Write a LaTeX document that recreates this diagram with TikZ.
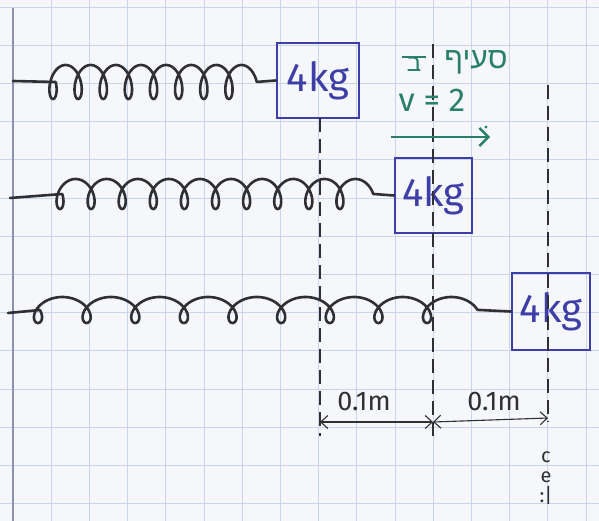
\documentclass[tikz,border=0pt]{standalone}
\usepackage{fontspec}
\setmainfont{Fira Sans}
\newfontfamily\hebfont[Script=Hebrew]{Liberation Sans}
\TeXXeTstate=1
\usetikzlibrary{arrows.meta}
\definecolor{gridblue}{RGB}{202,213,233}
\definecolor{marginline}{RGB}{140,145,175}
\definecolor{ink}{RGB}{48,48,52}
\definecolor{bluink}{RGB}{62,62,168}
\definecolor{greenink}{RGB}{40,128,108}
\definecolor{paper}{RGB}{246,247,250}
\tikzset{
  gridline/.style={gridblue, line width=0.9pt},
  springline/.style={ink, line width=2.6pt, line join=round, line cap=round},
  massbox/.style={draw=bluink, line width=2.6pt, inner sep=0pt, text=bluink,
    font=\fontsize{40}{40}\selectfont},
  guide/.style={ink, line width=1.2pt, dash pattern=on 14pt off 7pt},
  barb/.tip={Straight Barb[length=7pt,width=13pt]},
  dim/.style={ink, line width=1.1pt, barb-barb},
  dimlabel/.style={ink, font=\fontsize{27}{27}\selectfont},
  greentext/.style={text=greenink, font=\fontsize{33}{33}\selectfont},
  hebtext/.style={text=greenink, font=\hebfont\fontsize{30}{30}\selectfont},
}
\begin{document}
\begin{tikzpicture}[x=1pt, y=-1pt]
  % paper and squared grid
  \fill[paper] (0,0) rectangle (599,521);
  \useasboundingbox (0,0) rectangle (599,521);
  \foreach \k in {1,...,15} \draw[gridline] ({13+38.2*\k},0) -- ({13+38.2*\k},521);
  \foreach \k in {0,...,13} \draw[gridline] (0,{7+38.2*\k}) -- (599,{7+38.2*\k});
  % wall
  \coordinate (wt) at (13,8);
  \coordinate (wb) at (13,521);
  \draw[marginline, line width=1.3pt] (wt) -- (wb);

  % masses
  \node[massbox, minimum width=82pt, minimum height=75pt] (b1) at (318,80.5) {4kg};
  \node[massbox, minimum width=77pt, minimum height=75pt] (b2) at (433.5,195.5) {4kg};
  \node[massbox, minimum width=78pt, minimum height=77pt] (b3) at (551,311.5) {4kg};

  % springs (looped coils)
  \coordinate (s1) at (13,81);
  \coordinate (s2) at (10,198);
  \coordinate (s3) at (8,313);
  \draw[springline] (s1) -- plot[domain=-pi/2:15.5*pi, samples=500, smooth]
      ({53+4*\x-9*sin(\x r)},{82+17*cos(\x r)}) -- (b1.west);
  \draw[springline] (s2) -- plot[domain=-pi/2:19.5*pi, samples=600, smooth]
      ({60+4.95*\x-10*sin(\x r)},{194+15*cos(\x r)}) -- (b2.west);
  \draw[springline] (s3) -- plot[domain=-pi/2:17.5*pi, samples=600, smooth]
      ({38+7.74*\x-14*sin(\x r)},{310+13*cos(\x r)}) -- (b3.west);

  % dashed position guides
  \coordinate (g1t) at (320,118);
  \coordinate (g1b) at (320,436);
  \coordinate (g2t) at (433,44);
  \coordinate (g2b) at (433,440);
  \coordinate (g3t) at (548,85);
  \coordinate (g3b) at (548,422);
  \draw[guide] (g1t) -- (g1b);
  \draw[guide] (g2t) -- (g2b);
  \draw[guide] (g3t) -- (g3b);

  % displacement dimensions
  \coordinate (d1) at (320,422);
  \coordinate (d2) at (433,422);
  \coordinate (d3) at (548,418);
  \draw[dim] (d1) -- (d2);
  \draw[dim] (d2) -- (d3);
  \node[dimlabel] (l1) at (364,401) {0.1m};
  \node[dimlabel] (l2) at (494,401) {0.1m};

  % velocity annotation
  \node[hebtext] (h1) at (476,62) {\beginR סעיף\endR};
  \node[hebtext, font=\hebfont\fontsize{24}{24}\selectfont] (h2) at (414,64) {\beginR ב\endR};
  \draw[greenink, line width=1.8pt] ([xshift=-1pt,yshift=-4pt]h2.north west) -- ([xshift=1pt,yshift=-4pt]h2.north east);
  \node[greentext] (v) at (432,100) {v = 2};
  \coordinate (va) at (391,137);
  \coordinate (vb) at (490,137);
  \draw[greenink, line width=2.4pt, -{Straight Barb[length=9pt,width=18pt]}] (va) -- (vb);
  \fill[greenink] (486,127) circle (1.6pt);

  % margin note, written downwards
  \node[ink, font=\fontsize{20}{20}\selectfont, align=center, inner sep=0pt, anchor=north] (note) at (546,452)
      {c\\e\\:|};
\end{tikzpicture}
\end{document}
